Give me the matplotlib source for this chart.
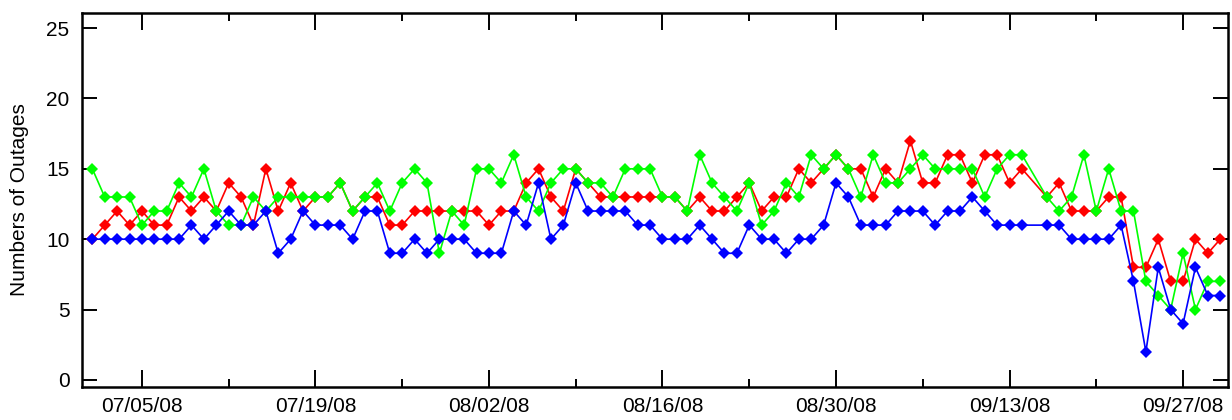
import matplotlib
matplotlib.use("Agg")
import matplotlib.pyplot as plt
import matplotlib.dates as mdates
import pandas as pd

# Daily outage counts, 07/01/08 - 09/30/08 (no record for 09/15/08)
dates = pd.date_range("2008-07-01", "2008-09-30").drop(pd.Timestamp("2008-09-15"))

outages_blue = [
    10, 10, 10, 10, 10, 10, 10, 10, 11, 10, 11, 12, 11, 11, 12, 9, 10,
    12, 11, 11, 11, 10, 12, 12, 9, 9, 10, 9, 10, 10, 10, 9, 9,
    9, 12, 11, 14, 10, 11, 14, 12, 12, 12, 12, 11, 11, 10, 10, 10,
    11, 10, 9, 9, 11, 10, 10, 9, 10, 10, 11, 14, 13, 11, 11, 11,
    12, 12, 12, 11, 12, 12, 13, 12, 11, 11, 11, 11, 11, 10, 10,
    10, 10, 11, 7, 2, 8, 5, 4, 8, 6, 6,
]
outages_red = [
    10, 11, 12, 11, 12, 11, 11, 13, 12, 13, 12, 14, 13, 11, 15, 12, 14,
    12, 13, 13, 14, 12, 13, 13, 11, 11, 12, 12, 12, 12, 12, 12, 11,
    12, 12, 14, 15, 13, 12, 15, 14, 13, 13, 13, 13, 13, 13, 13, 12,
    13, 12, 12, 13, 14, 12, 13, 13, 15, 14, 15, 16, 15, 15, 13, 15,
    14, 17, 14, 14, 16, 16, 14, 16, 16, 14, 15, 13, 14, 12, 12,
    12, 13, 13, 8, 8, 10, 7, 7, 10, 9, 10,
]
outages_green = [
    15, 13, 13, 13, 11, 12, 12, 14, 13, 15, 12, 11, 11, 13, 12, 13, 13,
    13, 13, 13, 14, 12, 13, 14, 12, 14, 15, 14, 9, 12, 11, 15, 15,
    14, 16, 13, 12, 14, 15, 15, 14, 14, 13, 15, 15, 15, 13, 13, 12,
    16, 14, 13, 12, 14, 11, 12, 14, 13, 16, 15, 16, 15, 13, 16, 14,
    14, 15, 16, 15, 15, 15, 15, 13, 15, 16, 16, 13, 12, 13, 16,
    12, 15, 12, 12, 7, 6, 5, 9, 5, 7, 7,
]

plt.rcParams["font.family"] = ["Liberation Sans", "DejaVu Sans"]

fig = plt.figure(figsize=(12.32, 4.2), dpi=100)
ax = fig.add_axes([82 / 1232, 1 - 387 / 420, (1228 - 82) / 1232, (387 - 13) / 420])

style = dict(marker="D", markersize=6, markeredgewidth=0, linewidth=1.2)
ax.plot(dates, outages_red, color="#ff0000", zorder=3, **style)
ax.plot(dates, outages_green, color="#00ff00", zorder=4, **style)
ax.plot(dates, outages_blue, color="#0000ff", zorder=5, **style)

start = pd.Timestamp("2008-07-01")
end = pd.Timestamp("2008-09-30")
ax.set_xlim(start - pd.Timedelta(hours=20), end + pd.Timedelta(hours=15))
ax.set_ylim(-0.5, 26.07)

major = pd.date_range("2008-07-05", "2008-09-27", freq="14D")
minor = pd.date_range("2008-07-12", "2008-09-30", freq="14D")
ax.set_xticks(major)
ax.set_xticks(minor, minor=True)
ax.xaxis.set_major_formatter(mdates.DateFormatter("%m/%d/%y"))
ax.set_yticks([0, 5, 10, 15, 20, 25])

ax.tick_params(axis="x", which="major", direction="in", length=12, width=1.4,
               top=True, bottom=True, labelsize=15, pad=7)
ax.tick_params(axis="x", which="minor", direction="in", length=6, width=1.4,
               top=True, bottom=True)
ax.tick_params(axis="y", which="major", direction="in", length=10.5, width=1.4,
               left=True, right=True, labelsize=15, pad=9)

for sp in ax.spines.values():
    sp.set_linewidth(1.8)

ax.set_ylabel("Numbers of Outages", fontsize=15, labelpad=12)

fig.savefig("out.png", dpi=100)
